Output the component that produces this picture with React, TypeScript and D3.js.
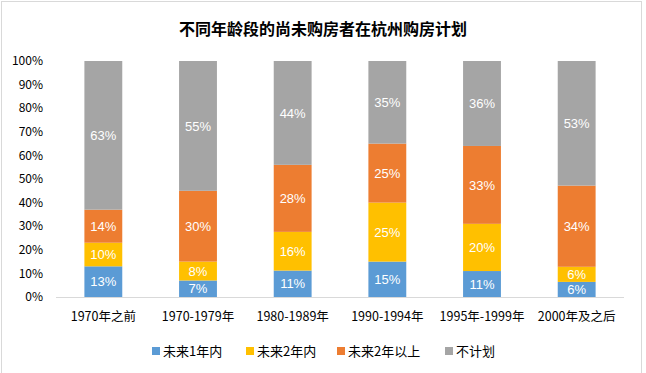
import React, { useEffect, useRef } from 'react';
import * as d3 from 'd3';

const categories = ['1970年之前', '1970-1979年', '1980-1989年', '1990-1994年', '1995年-1999年', '2000年及之后'];
const seriesNames = ['未来1年内', '未来2年内', '未来2年以上', '不计划'];
const seriesColors = ['#5B9BD5', '#FFC000', '#ED7D31', '#A5A5A5'];
// percent values per category, in series order
const within1Year = [13, 7, 11.2, 15, 11, 6.4];
const within2Years = [10, 8, 16.4, 25, 20, 6.4];
const beyond2Years = [14, 30, 28.4, 25, 33, 34.4];
const noPlan = [63, 55, 44, 35, 36, 52.8];
const yTicks = [0, 10, 20, 30, 40, 50, 60, 70, 80, 90, 100];

const FONT = '"Noto Sans CJK SC", "Liberation Sans", sans-serif';
const NUM_FONT = '"Liberation Sans", Arial, sans-serif';

const App = () => {
  const svgRef = useRef<SVGSVGElement>(null);

  useEffect(() => {
    const width = 646;
    const height = 373;
    const margin = { top: 61, left: 56, right: 22, bottom: 76 };
    const innerWidth = width - margin.left - margin.right;
    const innerHeight = height - margin.top - margin.bottom;

    const svg = d3.select(svgRef.current);
    svg.selectAll('*').remove();

    svg.append('rect')
      .attr('x', 0).attr('y', 0)
      .attr('width', width).attr('height', height)
      .attr('fill', '#fff');

    svg.append('rect')
      .attr('x', 1.5).attr('y', 1.5)
      .attr('width', 640).attr('height', 390)
      .attr('fill', 'none')
      .attr('stroke', '#D9D9D9');

    svg.append('text')
      .attr('x', 323)
      .attr('y', 35)
      .attr('text-anchor', 'middle')
      .style('font-family', FONT)
      .style('font-size', '16px')
      .style('font-weight', 'bold')
      .attr('fill', '#000')
      .text('不同年龄段的尚未购房者在杭州购房计划');

    const chart = svg.append('g')
      .attr('transform', `translate(${margin.left},${margin.top})`);

    const x = d3.scaleBand()
      .domain(categories)
      .range([0, innerWidth])
      .paddingInner(0.6)
      .paddingOuter(0.3);

    const y = d3.scaleLinear()
      .domain([0, 100])
      .range([innerHeight, 0]);

    const rows = categories.map((c, i) => ({
      category: c,
      s0: within1Year[i],
      s1: within2Years[i],
      s2: beyond2Years[i],
      s3: noPlan[i]
    }));

    const stack = d3.stack<any>().keys(['s0', 's1', 's2', 's3']);
    const layers = stack(rows);

    // y axis labels
    chart.append('g')
      .selectAll('text')
      .data(yTicks)
      .enter()
      .append('text')
      .attr('x', -13)
      .attr('y', d => y(d))
      .attr('dy', '0.35em')
      .attr('text-anchor', 'end')
      .style('font-family', FONT)
      .style('font-size', '12px')
      .attr('fill', '#000')
      .text(d => d + '%');

    // bars + white value labels
    layers.forEach((layer, li) => {
      chart.append('g')
        .selectAll('rect')
        .data(layer)
        .enter()
        .append('rect')
        .attr('x', d => x(d.data.category)!)
        .attr('y', d => y(d[1]))
        .attr('width', x.bandwidth())
        .attr('height', d => y(d[0]) - y(d[1]))
        .attr('fill', seriesColors[li]);

      chart.append('g')
        .selectAll('text')
        .data(layer)
        .enter()
        .append('text')
        .attr('x', d => x(d.data.category)! + x.bandwidth() / 2)
        .attr('y', d => (y(d[0]) + y(d[1])) / 2)
        .attr('dy', '0.36em')
        .attr('text-anchor', 'middle')
        .style('font-family', NUM_FONT)
        .style('font-size', '13px')
        .attr('fill', '#fff')
        .text(d => Math.round(d[1] - d[0]) + '%');
    });

    // x axis line
    chart.append('line')
      .attr('x1', 0).attr('x2', innerWidth)
      .attr('y1', innerHeight + 0.5).attr('y2', innerHeight + 0.5)
      .attr('stroke', '#D9D9D9');

    chart.append('g')
      .selectAll('text')
      .data(categories)
      .enter()
      .append('text')
      .attr('x', d => x(d)! + x.bandwidth() / 2)
      .attr('y', innerHeight + 20)
      .attr('dy', '0.35em')
      .attr('text-anchor', 'middle')
      .style('font-family', FONT)
      .style('font-size', '12.5px')
      .attr('fill', '#000')
      .text(d => d);

    // legend
    const legendX = [152, 246, 337, 445];
    const legendY = 351;
    const legend = svg.append('g');
    seriesNames.forEach((name, i) => {
      legend.append('rect')
        .attr('x', legendX[i])
        .attr('y', legendY - 4)
        .attr('width', 8)
        .attr('height', 8)
        .attr('fill', seriesColors[i]);
      legend.append('text')
        .attr('x', legendX[i] + 11)
        .attr('y', legendY)
        .attr('dy', '0.35em')
        .style('font-family', FONT)
        .style('font-size', '13px')
        .attr('fill', '#000')
        .text(name);
    });
  }, []);

  return (
    <svg
      ref={svgRef}
      width={646}
      height={373}
      style={{ position: 'absolute', left: 0, top: 0 }}
    />
  );
};

export default App;
